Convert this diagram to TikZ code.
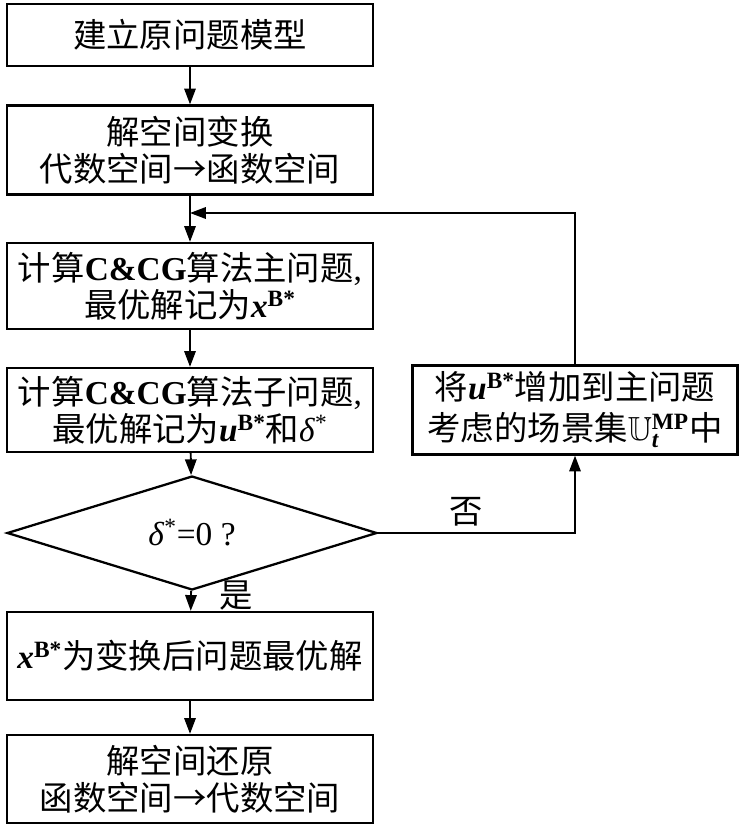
\documentclass[tikz,border=0pt]{standalone}
\usepackage{amsmath}
\usepackage{amssymb}
\usepackage{fontspec}
\setmainfont{Noto Sans CJK SC}
\newfontfamily\tnr{Liberation Serif}
\usepackage{tikz}
\usetikzlibrary{shapes.geometric,arrows.meta}
\newcommand{\lat}[1]{{\tnr #1}}
\newcommand{\xbs}{\lat{\textbf{\textit{x}}\textsuperscript{\textbf{B*}}}}
\newcommand{\ubs}{\lat{\textbf{\textit{u}}\textsuperscript{\textbf{B*}}}}
\newcommand{\dls}{\lat{\textit{δ}\textsuperscript{*}}}

\begin{document}
\begin{tikzpicture}[x=0.02cm,y=-0.02cm,
  box/.style={draw,line width=1.3pt,minimum width=7.32cm,inner sep=0pt,align=center,font=\fontsize{19}{21}\selectfont},
  choice/.style={draw,diamond,line width=1.3pt,minimum width=7.4cm,minimum height=1.76cm,inner sep=0pt,font=\fontsize{19}{21}\selectfont},
  lbl/.style={font=\fontsize{19}{21}\selectfont},
  arr/.style={line width=1.1pt,-{Triangle[length=9pt,width=6.5pt]}}]
\useasboundingbox (0,0) rectangle (740,828);

\node[box,minimum height=1.24cm](model) at (190,35){建立原问题模型};
\node[box,minimum height=1.78cm](trans) at (190,150){解空间变换\\代数空间→函数空间};
\node[box,minimum height=1.72cm](master) at (190,286){计算\lat{\textbf{C\&CG}}算法主问题\lat{,}\\最优解记为\xbs};
\node[box,minimum height=1.68cm](sub) at (190,410){计算\lat{\textbf{C\&CG}}算法子问题\lat{,}\\最优解记为\ubs 和\dls};
\node[choice](test) at (192,533){\dls\lat{=0 ?}};
\node[box,minimum height=1.76cm](opt) at (190,656){\xbs 为变换后问题最优解};
\node[box,minimum height=1.76cm](back) at (190,779){解空间还原\\函数空间→代数空间};
\node[box,minimum width=6.5cm,minimum height=1.78cm,font=\fontsize{19}{23}\selectfont](add) at (575,410){将\ubs 增加到主问题\\考虑的场景集\lat{$\mathbb{U}_{\textbf{\textit{t}}}^{\textbf{MP}}$}中};

\coordinate(join) at (190,213);
\coordinate(no) at (575,533);

\draw[arr](model)--(trans);
\draw[line width=1.1pt](trans)--(join);
\draw[arr](join)--(master);
\draw[arr](master)--(sub);
\draw[arr](sub)--(test);
\draw[arr](test)--(opt);
\draw[arr](opt)--(back);
\draw[arr](test.east)--(no)--(add);
\draw[arr](add.north)|-(join);

\node[lbl](yes) at (236,596){是};
\node[lbl](nolbl) at (466,512){否};
\end{tikzpicture}
\end{document}
